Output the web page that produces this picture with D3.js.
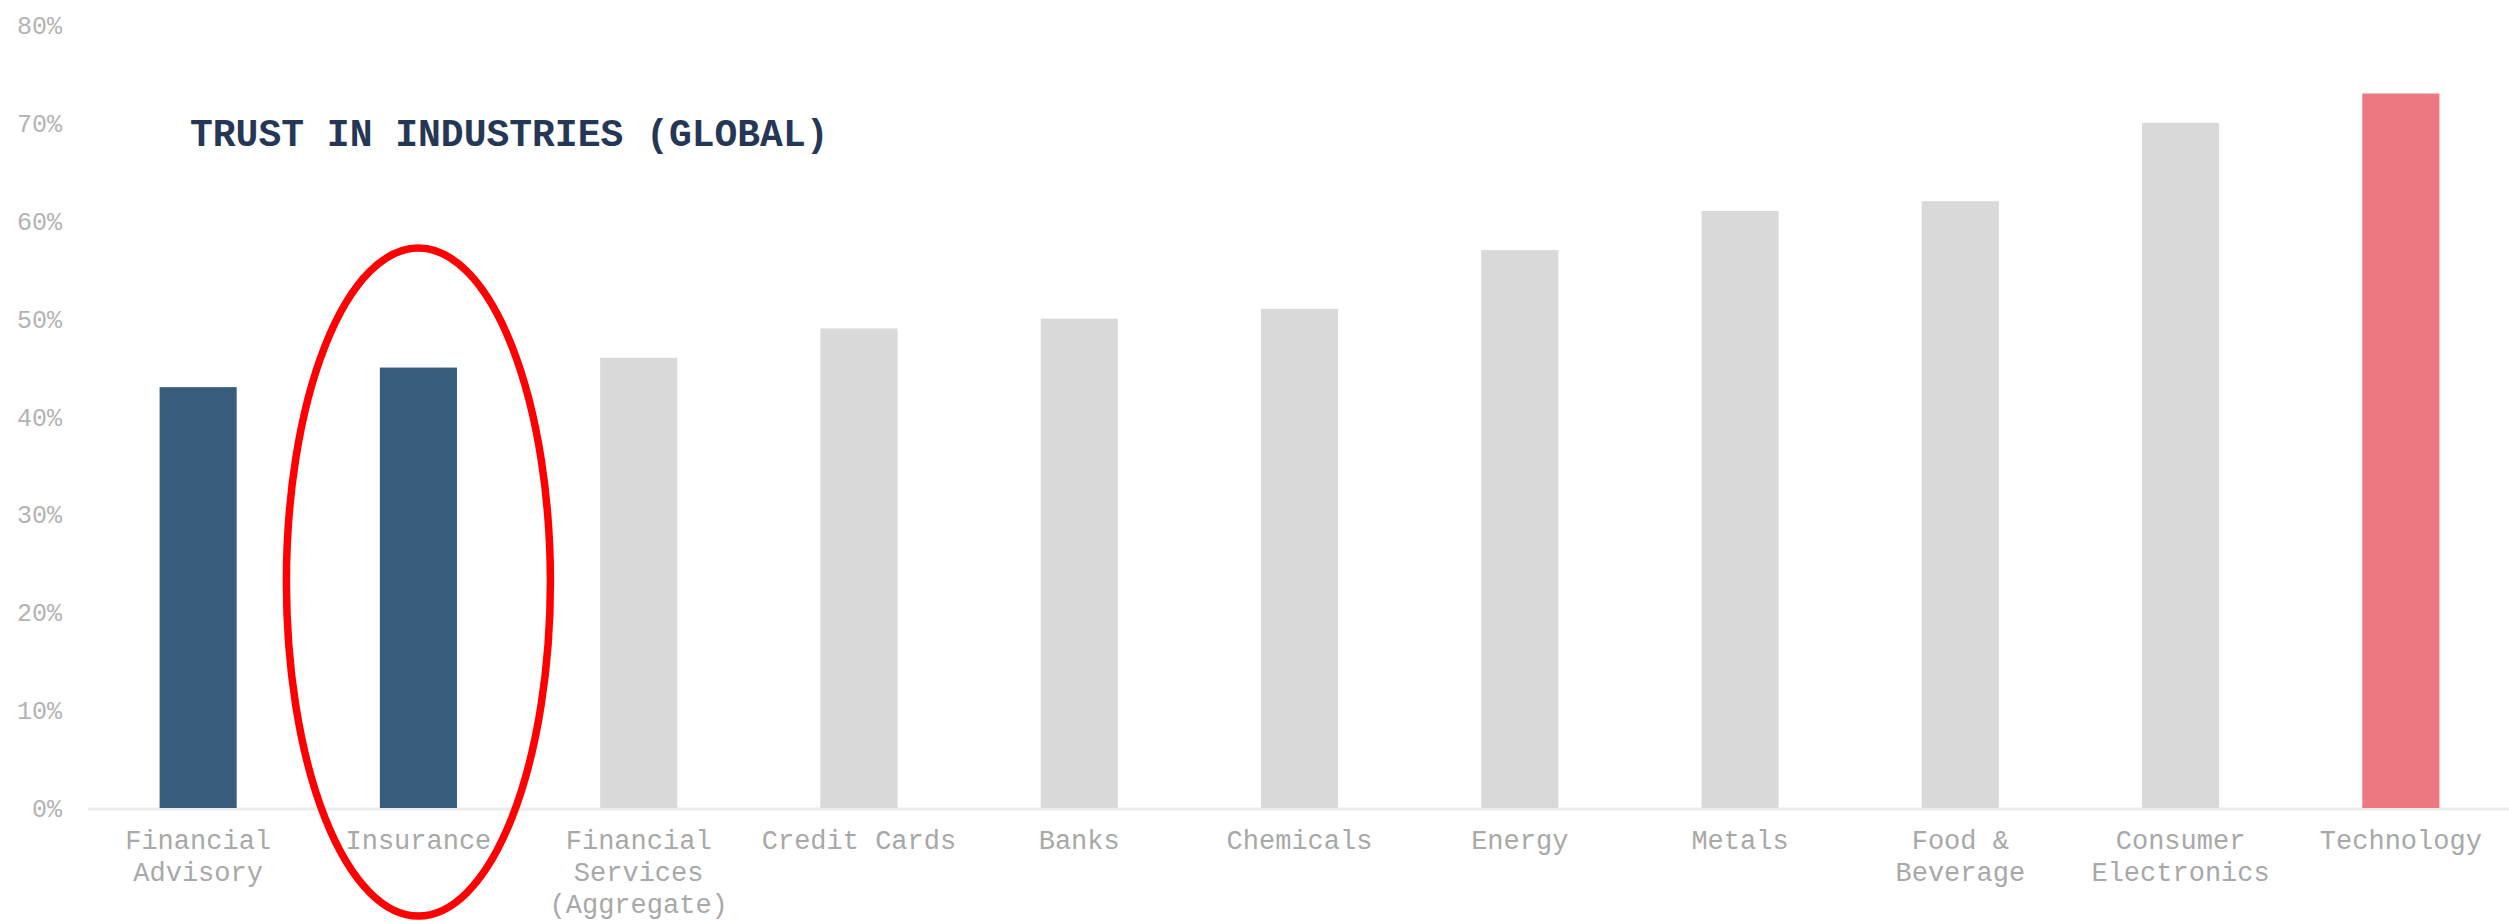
<!DOCTYPE html>
<html>
<head>
<meta charset="utf-8">
<script src="https://cdn.jsdelivr.net/npm/d3@7"></script>
<style>
  html, body { margin: 0; padding: 0; background: #fff; }
  svg { display: block; }
</style>
</head>
<body>
<svg id="chart" width="2509" height="924"></svg>
<script>
const categories = [
  "Financial Advisory", "Insurance", "Financial Services (Aggregate)", "Credit Cards",
  "Banks", "Chemicals", "Energy", "Metals", "Food & Beverage", "Consumer Electronics", "Technology"
];
const labelLines = [
  ["Financial", "Advisory"], ["Insurance"], ["Financial", "Services", "(Aggregate)"], ["Credit Cards"],
  ["Banks"], ["Chemicals"], ["Energy"], ["Metals"], ["Food &", "Beverage"], ["Consumer", "Electronics"], ["Technology"]
];
const trust = [43, 45, 46, 49, 50, 51, 57, 61, 62, 70, 73];
const yTicks = [0, 10, 20, 30, 40, 50, 60, 70, 80];
const titleText = "TRUST IN INDUSTRIES (GLOBAL)";
const financialGroup = ["Financial Advisory", "Insurance"];
const topGroup = ["Technology"];
const circled = "Insurance";

const svg = d3.select("#chart");

const x = d3.scaleBand()
  .domain(categories)
  .range([88, 2511])
  .paddingInner(0.65)
  .paddingOuter(0.325);

const y = d3.scaleLinear()
  .domain([0, 80])
  .range([808, 25]);

const mono = "'Liberation Mono', 'Courier New', monospace";

function barColor(c) {
  if (financialGroup.includes(c)) return "#375c7c";
  if (topGroup.includes(c)) return "#ed7882";
  return "#d9d9d9";
}

// baseline
svg.append("line")
  .attr("x1", 88).attr("x2", 2509)
  .attr("y1", y(0) + 1).attr("y2", y(0) + 1)
  .attr("stroke", "#ebebeb").attr("stroke-width", 3);

// y axis labels
const yAxis = d3.axisLeft(y)
  .tickValues(yTicks)
  .tickFormat(d => d + "%")
  .tickSize(0)
  .tickPadding(0);
const yg = svg.append("g").attr("transform", "translate(62,0)").call(yAxis);
yg.select(".domain").remove();
yg.selectAll("text")
  .attr("font-family", mono)
  .attr("font-size", 25)
  .attr("fill", "#b3b3b3")
  .attr("dy", "0.34em");

// bars
svg.append("g").selectAll("rect")
  .data(categories)
  .join("rect")
  .attr("x", d => x(d))
  .attr("width", x.bandwidth())
  .attr("y", (d, i) => y(trust[i]))
  .attr("height", (d, i) => y(0) - y(trust[i]))
  .attr("fill", d => barColor(d));

// x labels
const xl = svg.append("g").selectAll("text")
  .data(categories)
  .join("text")
  .attr("x", d => x(d) + x.bandwidth() / 2)
  .attr("y", 849)
  .attr("text-anchor", "middle")
  .attr("font-family", mono)
  .attr("font-size", 27)
  .attr("fill", "#a8a8a8");
xl.each(function(d, i) {
  const t = d3.select(this);
  labelLines[i].forEach((line, j) => {
    t.append("tspan")
      .attr("x", x(d) + x.bandwidth() / 2)
      .attr("dy", j === 0 ? 0 : 32)
      .text(line);
  });
});

// title
svg.append("text")
  .attr("x", 190)
  .attr("y", 146)
  .attr("font-family", mono)
  .attr("font-weight", "bold")
  .attr("font-size", 38)
  .attr("fill", "#263756")
  .text(titleText);

// highlight ellipse
svg.append("ellipse")
  .attr("cx", x(circled) + x.bandwidth() / 2)
  .attr("cy", 582)
  .attr("rx", 132)
  .attr("ry", 334)
  .attr("fill", "none")
  .attr("stroke", "#ff0000")
  .attr("stroke-width", 7.5);
</script>
</body>
</html>
